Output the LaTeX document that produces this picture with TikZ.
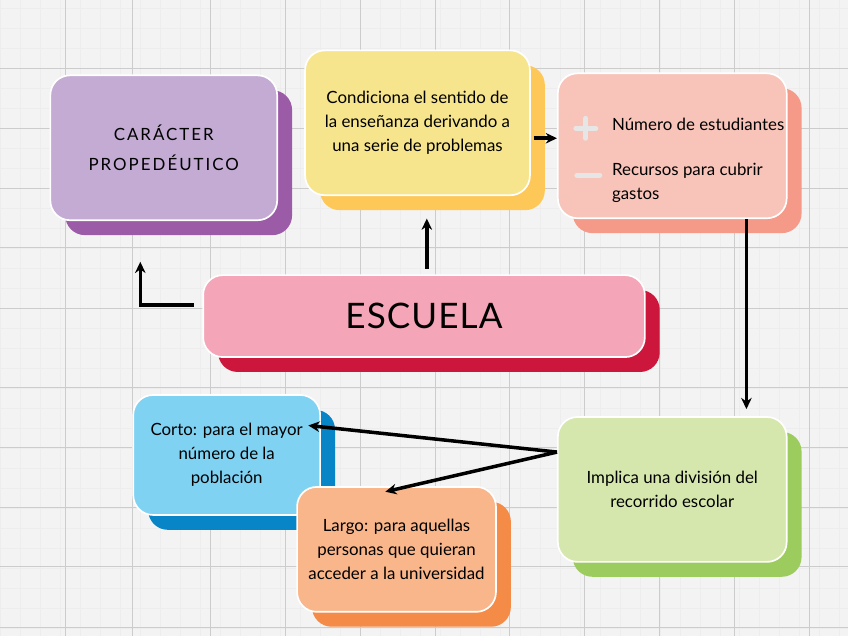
\documentclass[tikz,border=0pt]{standalone}
\usepackage{fontspec}
\setmainfont{Lato}
\newfontfamily\capsfont[LetterSpace=12]{Lato}
\usetikzlibrary{arrows.meta, positioning, shadows, calc}
\definecolor{clrPaper}{HTML}{F3F3F3}
\definecolor{clrCarFront}{HTML}{C3ABD3}
\definecolor{clrCarBack}{HTML}{9B5BA6}
\definecolor{clrCondFront}{HTML}{F6E58D}
\definecolor{clrCondBack}{HTML}{FDC858}
\definecolor{clrNumFront}{HTML}{F8C4B9}
\definecolor{clrNumBack}{HTML}{F59A88}
\definecolor{clrEscFront}{HTML}{F4A6B8}
\definecolor{clrEscBack}{HTML}{CD163C}
\definecolor{clrCortoFront}{HTML}{80D2F3}
\definecolor{clrCortoBack}{HTML}{0785C7}
\definecolor{clrLargoFront}{HTML}{F9B68B}
\definecolor{clrLargoBack}{HTML}{F48B46}
\definecolor{clrImplFront}{HTML}{D6E7AD}
\definecolor{clrImplBack}{HTML}{9CCB5E}
\definecolor{clrIcon}{HTML}{E6E6E6}

\begin{document}
\begin{tikzpicture}[
    x=0.025cm, y=-0.025cm,
    card/.style 2 args={rectangle, rounded corners=14pt, draw=white, line width=1.2pt, fill=#1, align=center, inner sep=0pt, font=\fontsize{12}{17}\selectfont, general shadow={fill=#2, draw=none, shadow xshift=10.6pt, shadow yshift=-10.6pt}},
    item/.style={anchor=west, font=\fontsize{12}{17}\selectfont, align=left, inner sep=0pt},
    icon/.style={clrIcon, line width=3.5pt, line cap=round},
    arr/.style={-{Stealth[length=8pt, width=7.5pt]}, line width=2.5pt, black},
    minor/.style={black!7, line width=0.3pt},
    major/.style={black!20, line width=0.6pt},
]

% graph paper
\fill[clrPaper] (0,0) rectangle (848,636);
\foreach \gx in {0,20,...,840} \draw[minor] (\gx,0) -- (\gx,636);
\foreach \gy in {8,28,...,636} \draw[minor] (0,\gy) -- (848,\gy);
\foreach \gx in {65,132,210,285,360,435,510,585,660,735,810} \draw[major] (\gx,0) -- (\gx,636);
\foreach \gy in {68,128,188,247,308,387,447,507,567,628} \draw[major] (0,\gy) -- (848,\gy);
\useasboundingbox (0,0) rectangle (848,636);

% cards
\node[card={clrCarFront}{clrCarBack}, minimum width=5.675cm, minimum height=3.625cm, font=\fontsize{12}{21}\selectfont] (car) at (163.5,147.5) {\capsfont CARÁCTER\\\capsfont PROPEDÉUTICO};
\node[card={clrCondFront}{clrCondBack}, minimum width=5.625cm, minimum height=3.625cm] (cond) at (417.5,122.5) {Condiciona el sentido de\\la enseñanza derivando a\\una serie de problemas};
\node[card={clrNumFront}{clrNumBack}, minimum width=5.725cm, minimum height=3.625cm] (nume) at (672.5,145.5) {};
\node[card={clrEscFront}{clrEscBack}, minimum width=11.05cm, minimum height=2.05cm, font=\fontsize{25}{30}\selectfont\addfontfeatures{LetterSpace=3}] (esc) at (424,316) {ESCUELA};
\node[card={clrImplFront}{clrImplBack}, minimum width=5.725cm, minimum height=3.625cm] (impl) at (672.5,489.5) {Implica una división del\\recorrido escolar};
\node[card={clrCortoFront}{clrCortoBack}, minimum width=4.675cm, minimum height=3.0cm] (corto) at (226.5,455) {Corto: para el mayor\\número de la\\población};
\node[card={clrLargoFront}{clrLargoBack}, minimum width=4.975cm, minimum height=3.125cm] (largo) at (396.5,549.5) {Largo: para aquellas\\personas que quieran\\acceder a la universidad};

% list inside the pink card
\node[item] (mas) at (612,124) {Número de estudiantes};
\node[item] (menos) at (612,183) {Recursos para cubrir\\gastos};
\draw[icon] (576,128) -- (596,128) (586,118) -- (586,138);
\draw[icon] (577,175) -- (600,175);

% connectors
\draw[arr, shorten <=4pt, shorten >=16pt] ([xshift=2pt]esc.north) -- ([xshift=2pt]esc.north |- cond.south);
\draw[arr, shorten <=6pt, shorten >=29pt] ([yshift=7.8pt]esc.west) -| ([xshift=-16.7pt]car.south);
\draw[arr, shorten <=2pt] ([yshift=-11pt]cond.east) -- ([yshift=-11pt]cond.east -| nume.west);
\draw[arr, shorten >=5pt] ([xshift=52.8pt]nume.south) -- ([xshift=52.8pt]impl.north);
\coordinate (split) at ([yshift=26.6pt]impl.west);
\draw[arr] (split) -- ([xshift=-9pt, yshift=21pt]corto.east);
\draw[arr] (split) -- ([xshift=-8pt, yshift=-4pt]largo.north);

\end{tikzpicture}
\end{document}
